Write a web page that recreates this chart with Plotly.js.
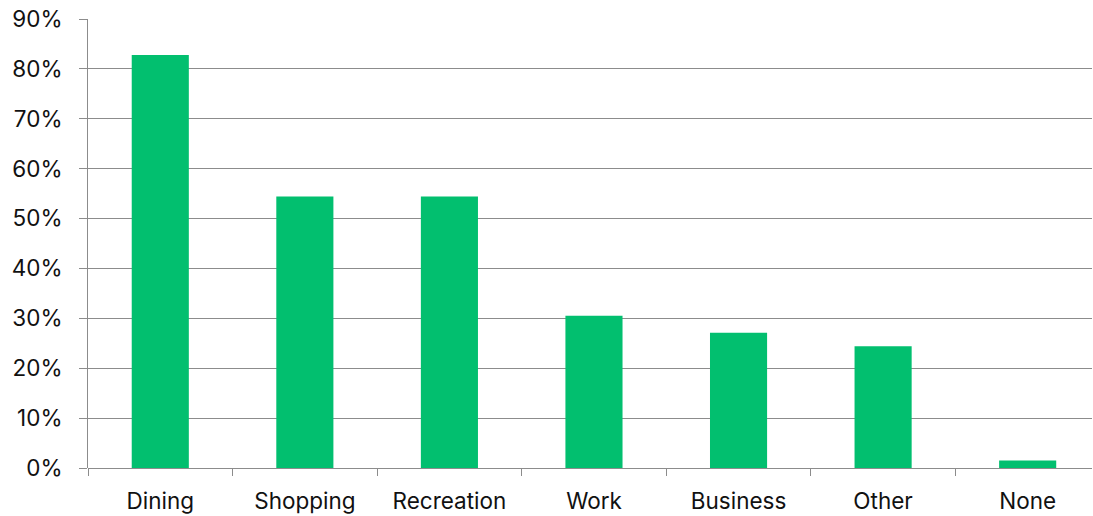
<!DOCTYPE html>
<html>
<head>
<meta charset="utf-8">
<script src="https://cdn.plot.ly/plotly-3.0.1.min.js"></script>
<style>html,body{margin:0;padding:0;background:#fff;}#chart{width:1093px;height:516px;}</style>
</head>
<body>
<div id="chart"></div>
<script>
const categories = ["Dining", "Shopping", "Recreation", "Work", "Business", "Other", "None"];
const values = [0.828, 0.544, 0.544, 0.305, 0.271, 0.244, 0.015];
const yTickValues = [0, 0.1, 0.2, 0.3, 0.4, 0.5, 0.6, 0.7, 0.8, 0.9];
const yTickLabels = ["0%", "10%", "20%", "30%", "40%", "50%", "60%", "70%", "80%", "90%"];

const fontFamily = "Inter, 'Liberation Sans', Arial, sans-serif";

Plotly.newPlot("chart", [{
  type: "bar",
  x: categories,
  y: values,
  marker: {color: "#02BF6F", line: {width: 0}},
  width: 0.395,
  hoverinfo: "x+y"
}], {
  width: 1093,
  height: 516,
  margin: {l: 88, r: 1, t: 19, b: 48, pad: 0},
  paper_bgcolor: "#ffffff",
  plot_bgcolor: "#ffffff",
  showlegend: false,
  font: {family: fontFamily, size: 22.5, color: "#111111"},
  xaxis: {
    type: "category",
    range: [-0.5, 6.445],
    tickson: "boundaries",
    ticks: "outside",
    ticklen: 7,
    tickcolor: "#8c8c8c",
    tickwidth: 1,
    showline: false,
    showgrid: false,
    zeroline: false,
    tickfont: {family: fontFamily, size: 22.5, color: "#111111"},
    ticklabelstandoff: 17
  },
  yaxis: {
    range: [0, 0.9],
    tickvals: yTickValues,
    ticktext: yTickLabels,
    ticks: "outside",
    ticklen: 8,
    tickcolor: "#8c8c8c",
    tickwidth: 1,
    showgrid: true,
    gridcolor: "#8c8c8c",
    gridwidth: 1,
    showline: true,
    linecolor: "#8c8c8c",
    linewidth: 1,
    zeroline: true,
    zerolinecolor: "#8c8c8c",
    zerolinewidth: 1,
    tickfont: {family: fontFamily, size: 22.5, color: "#111111"},
    ticklabelstandoff: 12
  }
}, {displayModeBar: false, staticPlot: true});
</script>
</body>
</html>
